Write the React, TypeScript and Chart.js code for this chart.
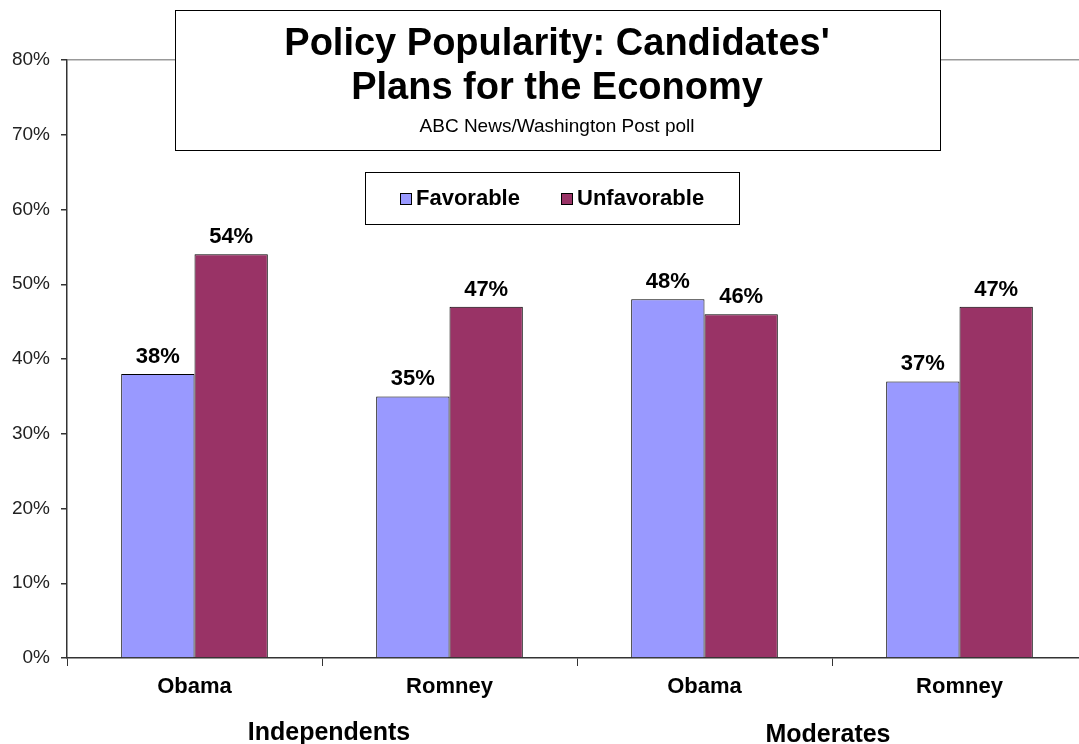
import React, { useEffect, useRef } from "react";
import { Chart, registerables } from "chart.js";

Chart.register(...registerables);

const categories = ["Obama", "Romney", "Obama", "Romney"];
const groups = ["Independents", "Moderates"];
const favorable = [38, 35, 48, 37];
const unfavorable = [54, 47, 46, 47];
const seriesNames = ["Favorable", "Unfavorable"];
const yTicks = [0, 10, 20, 30, 40, 50, 60, 70, 80];
const titleLines = ["Policy Popularity: Candidates'", "Plans for the Economy"];
const subtitle = "ABC News/Washington Post poll";

const FONT = "'Liberation Sans', Arial, sans-serif";
const FAV = "#9999FF";
const UNFAV = "#993366";

const overlayPlugin = {
  id: "overlay",
  afterDatasetsDraw(chart: any) {
    const ctx = chart.ctx;
    ctx.save();
    ctx.font = `bold 22px ${FONT}`;
    ctx.fillStyle = "#000";
    ctx.textAlign = "center";
    ctx.textBaseline = "bottom";
    chart.data.datasets.forEach((ds: any, i: number) => {
      const meta = chart.getDatasetMeta(i);
      meta.data.forEach((bar: any, j: number) => {
        ctx.fillText(`${ds.data[j]}%`, bar.x, bar.y - 6);
      });
    });
    ctx.restore();
  },
  afterDraw(chart: any) {
    const ctx = chart.ctx;
    const x = chart.scales.x;
    ctx.save();
    ctx.font = `bold 25px ${FONT}`;
    ctx.fillStyle = "#000";
    ctx.textAlign = "center";
    ctx.textBaseline = "middle";
    groups.forEach((g, gi) => {
      const cx = (x.getPixelForValue(gi * 2) + x.getPixelForValue(gi * 2 + 1)) / 2;
      ctx.fillText(g, cx + (gi === 0 ? 7 : -4), 733 + gi * 2);
    });

    // title box
    ctx.fillStyle = "#fff";
    ctx.fillRect(175, 10, 765, 140);
    ctx.strokeStyle = "#000";
    ctx.lineWidth = 1;
    ctx.strokeRect(175.5, 10.5, 765, 140);
    ctx.fillStyle = "#000";
    ctx.font = `bold 38px ${FONT}`;
    ctx.fillText(titleLines[0], 557, 45);
    ctx.fillText(titleLines[1], 557, 89);
    ctx.font = `19px ${FONT}`;
    ctx.fillText(subtitle, 557, 127);

    // legend box
    ctx.fillStyle = "#fff";
    ctx.fillRect(365, 172, 374, 52);
    ctx.strokeStyle = "#000";
    ctx.strokeRect(365.5, 172.5, 374, 52);
    const items = [
      { label: seriesNames[0], color: FAV, sx: 400 },
      { label: seriesNames[1], color: UNFAV, sx: 561 },
    ];
    ctx.font = `bold 22px ${FONT}`;
    ctx.textAlign = "left";
    items.forEach((it) => {
      ctx.fillStyle = it.color;
      ctx.fillRect(it.sx, 193, 11, 11);
      ctx.strokeStyle = "#000";
      ctx.strokeRect(it.sx + 0.5, 193.5, 11, 11);
      ctx.fillStyle = "#000";
      ctx.fillText(it.label, it.sx + 16, 199);
    });
    ctx.restore();
  },
};

export default function App() {
  const ref = useRef<HTMLCanvasElement>(null);
  useEffect(() => {
    if (!ref.current) return;
    const chart = new Chart(ref.current, {
      type: "bar",
      data: {
        labels: categories,
        datasets: [
          {
            label: seriesNames[0],
            data: favorable,
            backgroundColor: FAV,
            borderColor: "#000",
            borderWidth: 1,
          },
          {
            label: seriesNames[1],
            data: unfavorable,
            backgroundColor: UNFAV,
            borderColor: "#000",
            borderWidth: 1,
          },
        ],
      },
      options: {
        animation: false,
        responsive: false,
        maintainAspectRatio: false,
        layout: { padding: { top: 60, right: 13, left: 0, bottom: 0 } },
        datasets: { bar: { barPercentage: 1, categoryPercentage: 0.575 } },
        plugins: {
          legend: { display: false },
          title: { display: false },
          tooltip: { enabled: false },
        },
        scales: {
          x: {
            grid: {
              offset: true,
              drawOnChartArea: false,
              tickLength: 8,
              color: "#333",
              lineWidth: 1,
            },
            border: { display: true, color: "#333", width: 1.5 },
            ticks: {
              font: { family: FONT, size: 22, weight: "bold" },
              color: "#000",
              padding: 8,
            },
            afterFit: (s: any) => {
              s.height = 86;
            },
          },
          y: {
            min: 0,
            max: 80,
            afterBuildTicks: (s: any) => {
              s.ticks = yTicks.map((v) => ({ value: v }));
            },
            grid: {
              color: (c: any) => (c.tick && c.tick.value === 80 ? "#999" : "rgba(0,0,0,0)"),
              tickColor: "#333",
              tickLength: 6,
              lineWidth: 1.5,
            },
            border: { display: true, color: "#333", width: 1.5 },
            ticks: {
              font: { family: FONT, size: 19 },
              color: "#222",
              padding: 11,
              callback: (v: any) => `${v}%`,
            },
            afterFit: (s: any) => {
              s.width = 67;
            },
          },
        },
      },
      plugins: [overlayPlugin],
    });
    return () => chart.destroy();
  }, []);
  return (
    <div
      style={{
        position: "fixed",
        left: 0,
        top: 0,
        width: 1079,
        height: 744,
        overflow: "hidden",
        background: "#fff",
      }}
    >
      <canvas ref={ref} width={1100} height={744} style={{ display: "block" }} />
    </div>
  );
}
